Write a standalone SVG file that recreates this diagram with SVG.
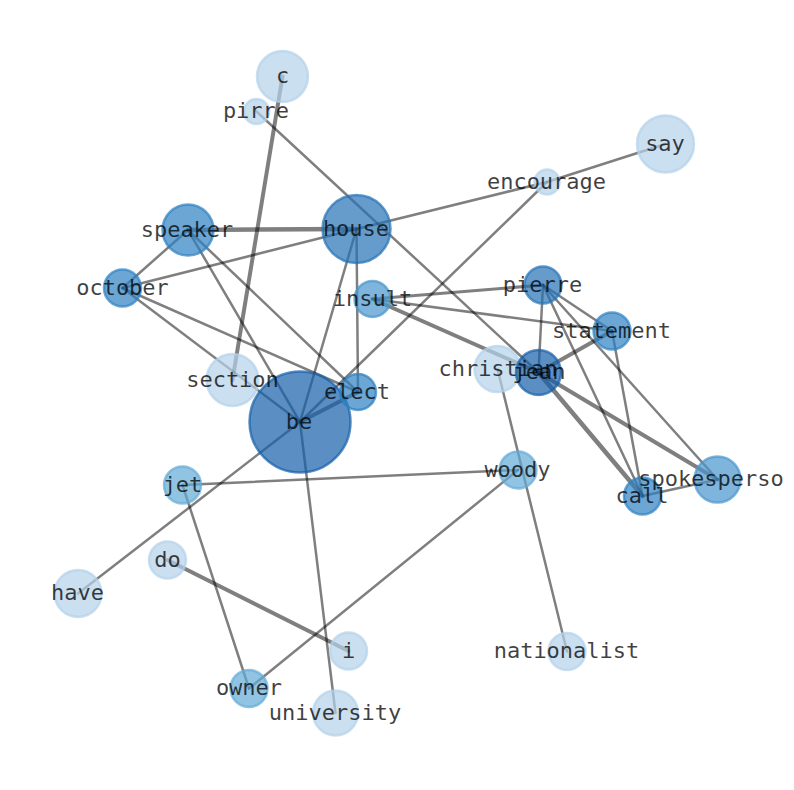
<svg xmlns="http://www.w3.org/2000/svg" width="794" height="790" viewBox="0 0 794 790">
<style>
.e{stroke:#000;stroke-opacity:0.5;stroke-width:2.5;fill:none;stroke-linecap:round}
.t{stroke-width:4}
.n circle{fill-opacity:0.7;stroke-opacity:0.7;stroke-width:2.5}
.l0 circle{fill:#b4d2ea;stroke:#b4d2ea}
.l1 circle{fill:#63abd6;stroke:#63abd6}
.l2 circle{fill:#4895cd;stroke:#4895cd}
.l3 circle{fill:#2c80c2;stroke:#2c80c2}
.l4 circle{fill:#2372b6;stroke:#2372b6}
.l5 circle{fill:#1660a9;stroke:#1660a9}
text{font-family:"DejaVu Sans Mono","Liberation Mono",monospace;font-size:22px;fill:#000;fill-opacity:0.75;text-anchor:middle}
</style>
<rect width="794" height="790" fill="#fff"/>
<g id="edges">
<line class="e" x1="256.5" y1="111.5" x2="538.5" y2="372.5"/>
<line class="e t" x1="282.5" y1="76.5" x2="232.5" y2="380"/>
<line class="e t" x1="188" y1="230" x2="356.5" y2="229" style="stroke-width:4.5"/>
<line class="e" x1="356.5" y1="229" x2="122.5" y2="288"/>
<line class="e" x1="188" y1="230" x2="122.5" y2="288"/>
<line class="e" x1="356.5" y1="229" x2="547" y2="182"/>
<line class="e" x1="547" y1="182" x2="665.5" y2="144"/>
<line class="e" x1="300" y1="422" x2="547" y2="182"/>
<line class="e" x1="356.5" y1="229" x2="300" y2="422"/>
<line class="e" x1="356.5" y1="229" x2="358" y2="392"/>
<line class="e" x1="188" y1="230" x2="300" y2="422"/>
<line class="e" x1="188" y1="230" x2="358" y2="392"/>
<line class="e" x1="122.5" y1="288" x2="358" y2="392"/>
<line class="e" x1="122.5" y1="288" x2="300" y2="422"/>
<line class="e" x1="372.5" y1="299" x2="543" y2="285" style="stroke-width:3"/>
<line class="e" x1="372.5" y1="299" x2="612" y2="331"/>
<line class="e t" x1="372.5" y1="299" x2="538.5" y2="372.5"/>
<line class="e" x1="543" y1="285" x2="538.5" y2="372.5"/>
<line class="e" x1="543" y1="285" x2="612" y2="331"/>
<line class="e" x1="543" y1="285" x2="642.5" y2="496"/>
<line class="e" x1="543" y1="285" x2="717.5" y2="479.5"/>
<line class="e t" x1="612" y1="331" x2="538.5" y2="372.5"/>
<line class="e" x1="612" y1="331" x2="642.5" y2="496"/>
<line class="e t" x1="538.5" y1="372.5" x2="642.5" y2="496" style="stroke-width:4.5"/>
<line class="e t" x1="538.5" y1="372.5" x2="717.5" y2="479.5"/>
<line class="e" x1="642.5" y1="496" x2="717.5" y2="479.5"/>
<line class="e" x1="497.5" y1="369" x2="567" y2="651.5"/>
<line class="e" x1="182.5" y1="485" x2="518" y2="470"/>
<line class="e" x1="249" y1="688.5" x2="518" y2="470"/>
<line class="e" x1="182.5" y1="485" x2="249" y2="688.5"/>
<line class="e t" x1="167.5" y1="560" x2="348.5" y2="651"/>
<line class="e" x1="300" y1="422" x2="335.5" y2="713"/>
<line class="e" x1="78" y1="593.5" x2="300" y2="422"/>
<line class="e t" x1="300" y1="422" x2="358" y2="392"/>
</g>
<g id="nodes">
<g id="n-c" class="n l0"><circle cx="282.5" cy="76.5" r="25.5"/></g>
<g id="n-pirre" class="n l0"><circle cx="256.5" cy="111.5" r="12.5"/></g>
<g id="n-say" class="n l0"><circle cx="665.5" cy="144" r="28.5"/></g>
<g id="n-encourage" class="n l0"><circle cx="547" cy="182" r="12.5"/></g>
<g id="n-speaker" class="n l3"><circle cx="188" cy="230" r="25.5"/></g>
<g id="n-house" class="n l4"><circle cx="356.5" cy="229" r="34"/></g>
<g id="n-october" class="n l3"><circle cx="122.5" cy="288" r="18.5"/></g>
<g id="n-insult" class="n l2"><circle cx="372.5" cy="299" r="18"/></g>
<g id="n-pierre" class="n l4"><circle cx="543" cy="285" r="18.5"/></g>
<g id="n-statement" class="n l3"><circle cx="612" cy="331" r="18.5"/></g>
<g id="n-christian" class="n l0"><circle cx="497.5" cy="369" r="23"/></g>
<g id="n-jean" class="n l5"><circle cx="538.5" cy="372.5" r="22.5"/></g>
<g id="n-section" class="n l0"><circle cx="232.5" cy="380" r="26"/></g>
<g id="n-be" class="n l5"><circle cx="300" cy="422" r="50.5"/></g>
<g id="n-elect" class="n l3"><circle cx="358" cy="392" r="18"/></g>
<g id="n-woody" class="n l1"><circle cx="518" cy="470" r="18.5"/></g>
<g id="n-jet" class="n l1"><circle cx="182.5" cy="485" r="18.5"/></g>
<g id="n-call" class="n l3"><circle cx="642.5" cy="496" r="18.5"/></g>
<g id="n-spokesperso" class="n l2"><circle cx="717.5" cy="479.5" r="23"/></g>
<g id="n-do" class="n l0"><circle cx="167.5" cy="560" r="18.5"/></g>
<g id="n-have" class="n l0"><circle cx="78" cy="593.5" r="23.5"/></g>
<g id="n-i" class="n l0"><circle cx="348.5" cy="651" r="18.5"/></g>
<g id="n-nationalist" class="n l0"><circle cx="567" cy="651.5" r="18.5"/></g>
<g id="n-owner" class="n l1"><circle cx="249" cy="688.5" r="18.5"/></g>
<g id="n-university" class="n l0"><circle cx="335.5" cy="713" r="22.5"/></g>
</g>
<g id="labels">
<text x="282.5" y="83">c</text>
<text x="256" y="118">pirre</text>
<text x="665" y="150.5">say</text>
<text x="546.5" y="188.5">encourage</text>
<text x="187" y="236.5">speaker</text>
<text x="356" y="235.5">house</text>
<text x="122.5" y="294.5">october</text>
<text x="372.5" y="305.5">insult</text>
<text x="542.5" y="291.5">pierre</text>
<text x="611.5" y="337.5">statement</text>
<text x="498" y="375.5">christian</text>
<text x="539" y="379">jean</text>
<text x="232.5" y="386.5">section</text>
<text x="299" y="428.5">be</text>
<text x="357" y="398.5">elect</text>
<text x="517.5" y="476.5">woody</text>
<text x="182.5" y="491.5">jet</text>
<text x="642" y="502.5">call</text>
<text x="711" y="486">spokesperso</text>
<text x="167.5" y="566.5">do</text>
<text x="77.5" y="600">have</text>
<text x="348.5" y="657.5">i</text>
<text x="566.5" y="658">nationalist</text>
<text x="249" y="695">owner</text>
<text x="335" y="719.5">university</text>
</g>
</svg>
